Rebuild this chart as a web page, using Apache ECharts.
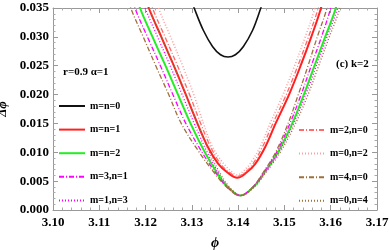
<!DOCTYPE html>
<html><head><meta charset="utf-8">
<script src="https://cdn.jsdelivr.net/npm/echarts@6/dist/echarts.min.js"></script>
<style>html,body{margin:0;padding:0;background:#fff}#c{width:389px;height:250px}</style>
</head><body><div id="c"></div>
<script>
// [phi, delta phi]
const m0n0 = [[3.1295,0.0372],[3.1305,0.0350],[3.1325,0.0311],[3.1345,0.0283],[3.1362,0.0269],[3.1378,0.0265],[3.1394,0.0269],[3.1411,0.0283],[3.1431,0.0311],[3.1449,0.0350],[3.1458,0.0372]];
const m1n1 = [[3.1197,0.038],[3.1207,0.035],[3.1234,0.030],[3.1261,0.025],[3.1287,0.020],[3.1312,0.015],[3.1334,0.011],[3.1357,0.008],[3.1377,0.0065],[3.1398,0.0056],[3.1418,0.0065],[3.1437,0.008],[3.1459,0.011],[3.1481,0.015],[3.1510,0.020],[3.1535,0.025],[3.1558,0.030],[3.1579,0.035],[3.1586,0.038]];
const m2n2 = [[3.1178,0.038],[3.1188,0.035],[3.1215,0.030],[3.1243,0.025],[3.1270,0.020],[3.1297,0.015],[3.1328,0.010],[3.1354,0.0065],[3.1377,0.0040],[3.1405,0.0025],[3.1433,0.0040],[3.1457,0.0065],[3.1486,0.010],[3.1517,0.015],[3.1542,0.020],[3.1565,0.025],[3.1588,0.030],[3.1611,0.035],[3.1618,0.038]];
const m3n1 = [[3.1167,0.038],[3.1177,0.035],[3.1204,0.030],[3.1232,0.025],[3.1259,0.020],[3.1287,0.015],[3.1322,0.010],[3.1351,0.0065],[3.1376,0.004],[3.1404,0.0025],[3.1432,0.004],[3.1455,0.0065],[3.1483,0.010],[3.1512,0.015],[3.1536,0.020],[3.1558,0.025],[3.1580,0.030],[3.1600,0.035],[3.1607,0.038]];
const m1n3 = [[3.1189,0.038],[3.1199,0.035],[3.1226,0.030],[3.1253,0.025],[3.1279,0.020],[3.1305,0.015],[3.1333,0.010],[3.1357,0.0065],[3.1379,0.004],[3.1406,0.0025],[3.1434,0.004],[3.1458,0.0065],[3.1488,0.010],[3.1520,0.015],[3.1546,0.020],[3.1569,0.025],[3.1592,0.030],[3.1615,0.035],[3.1622,0.038]];
const m2n0 = [[3.1205,0.038],[3.1215,0.035],[3.1242,0.030],[3.1269,0.025],[3.1295,0.020],[3.1319,0.015],[3.1340,0.011],[3.1362,0.008],[3.1380,0.0066],[3.1398,0.0058],[3.1416,0.0066],[3.1432,0.008],[3.1453,0.011],[3.1475,0.015],[3.1504,0.020],[3.1529,0.025],[3.1552,0.030],[3.1573,0.035],[3.1580,0.038]];
const m0n2 = [[3.1218,0.038],[3.1228,0.035],[3.1254,0.030],[3.1280,0.025],[3.1304,0.020],[3.1325,0.015],[3.1344,0.011],[3.1364,0.0085],[3.1381,0.0070],[3.1398,0.0061],[3.1415,0.0070],[3.1430,0.0085],[3.1448,0.011],[3.1469,0.015],[3.1497,0.020],[3.1522,0.025],[3.1545,0.030],[3.1566,0.035],[3.1573,0.038]];
const m4n0 = [[3.1158,0.038],[3.1168,0.035],[3.1195,0.030],[3.1222,0.025],[3.1250,0.020],[3.1277,0.015],[3.1316,0.010],[3.1348,0.0065],[3.1375,0.004],[3.1404,0.0025],[3.1432,0.004],[3.1454,0.0065],[3.1481,0.010],[3.1508,0.015],[3.1530,0.020],[3.1551,0.025],[3.1571,0.030],[3.1592,0.035],[3.1599,0.038]];
const m0n4 = [[3.1198,0.038],[3.1208,0.035],[3.1234,0.030],[3.1261,0.025],[3.1287,0.020],[3.1312,0.015],[3.1338,0.010],[3.1360,0.0065],[3.1381,0.004],[3.1406,0.0025],[3.1435,0.004],[3.1460,0.0065],[3.1491,0.010],[3.1524,0.015],[3.1551,0.020],[3.1574,0.025],[3.1597,0.030],[3.1620,0.035],[3.1627,0.038]];

const names = ['m=n=0','m=n=1','m=n=2','m=3,n=1','m=1,n=3','m=2,n=0','m=0,n=2','m=4,n=0','m=0,n=4'];
const datas = [m0n0,m1n1,m2n2,m3n1,m1n3,m2n0,m0n2,m4n0,m0n4];
const colors = ['#111111','#ff2020','#22ee22','#ff00ff','#ff00ff','#ff6a6a','#ffa0a0','#a0703c','#a0703c'];
const dashes = ['solid','solid','solid',[5,2,1,2],[1,2],[5,2,1,2],[1,2],[5,2,1,2],[1,2]];
const widths = [1.6,2,2,1.3,1.4,1.3,1.6,1.3,1.4];

const FONT = '"Liberation Serif","Times New Roman",serif';
const chart = echarts.init(document.getElementById('c'), null, {renderer:'canvas'});
const axisCommon = {
  axisLine:{show:true, onZero:false, lineStyle:{color:'#999', width:1}},
  axisTick:{show:true, inside:true, length:5, lineStyle:{color:'#999'}},
  minorTick:{show:true, splitNumber:5, length:2.5, lineStyle:{color:'#aaa'}},
  splitLine:{show:false}
};
const legendText = {fontFamily:FONT, fontWeight:'bold', fontSize:10, color:'#000', lineHeight:12};
chart.setOption({
  animation:false,
  backgroundColor:'#fff',
  grid:{left:53, right:12, top:8, bottom:40, containLabel:false, outerBoundsMode:'none'},
  xAxis:[
    Object.assign({type:'value', min:3.10, max:3.17, interval:0.01, position:'bottom',
      name:'ϕ', nameLocation:'middle', nameGap:26,
      nameTextStyle:{fontFamily:FONT, fontWeight:'bold', fontStyle:'italic', fontSize:14, color:'#000'},
      axisLabel:{formatter:v=>v.toFixed(2), fontFamily:FONT, fontWeight:'bold', fontSize:13, color:'#000', margin:6}}, axisCommon),
    Object.assign({type:'value', min:3.10, max:3.17, interval:0.01, position:'top', axisLabel:{show:false}}, axisCommon)
  ],
  yAxis:[
    Object.assign({type:'value', min:0, max:0.035, interval:0.005, position:'left',
      name:'Δϕ', nameLocation:'middle', nameGap:40, nameRotate:90,
      nameTextStyle:{fontFamily:FONT, fontWeight:'bold', fontStyle:'italic', fontSize:13, color:'#000'},
      axisLabel:{formatter:v=>v.toFixed(3), fontFamily:FONT, fontWeight:'bold', fontSize:13, color:'#000', margin:4}}, axisCommon),
    Object.assign({type:'value', min:0, max:0.035, interval:0.005, position:'right', axisLabel:{show:false}}, axisCommon)
  ],
  legend:[
    {data:names.slice(0,5), orient:'vertical', left:58, top:100, itemWidth:26, itemHeight:8, itemGap:11.6, padding:0,
     textStyle:legendText, itemStyle:{opacity:0}},
    {data:names.slice(5), orient:'vertical', left:298, top:124, itemWidth:26, itemHeight:8, itemGap:11.6, padding:0,
     textStyle:legendText, itemStyle:{opacity:0}}
  ],
  graphic:[
    {type:'text', left:63, top:67, style:{text:'r=0.9 α=1', font:'bold 11px '+FONT, fill:'#000'}},
    {type:'text', left:336, top:59, style:{text:'(c) k=2', font:'bold 11px '+FONT, fill:'#000'}}
  ],
  series: names.map((n,i)=>({
    name:n, type:'line', data:datas[i], smooth:0.35, showSymbol:false, symbol:'none',
    xAxisIndex:0, yAxisIndex:0, clip:true,
    lineStyle:{color:colors[i], width:widths[i], type:dashes[i]}, itemStyle:{color:colors[i]}
  }))
});
</script></body></html>
